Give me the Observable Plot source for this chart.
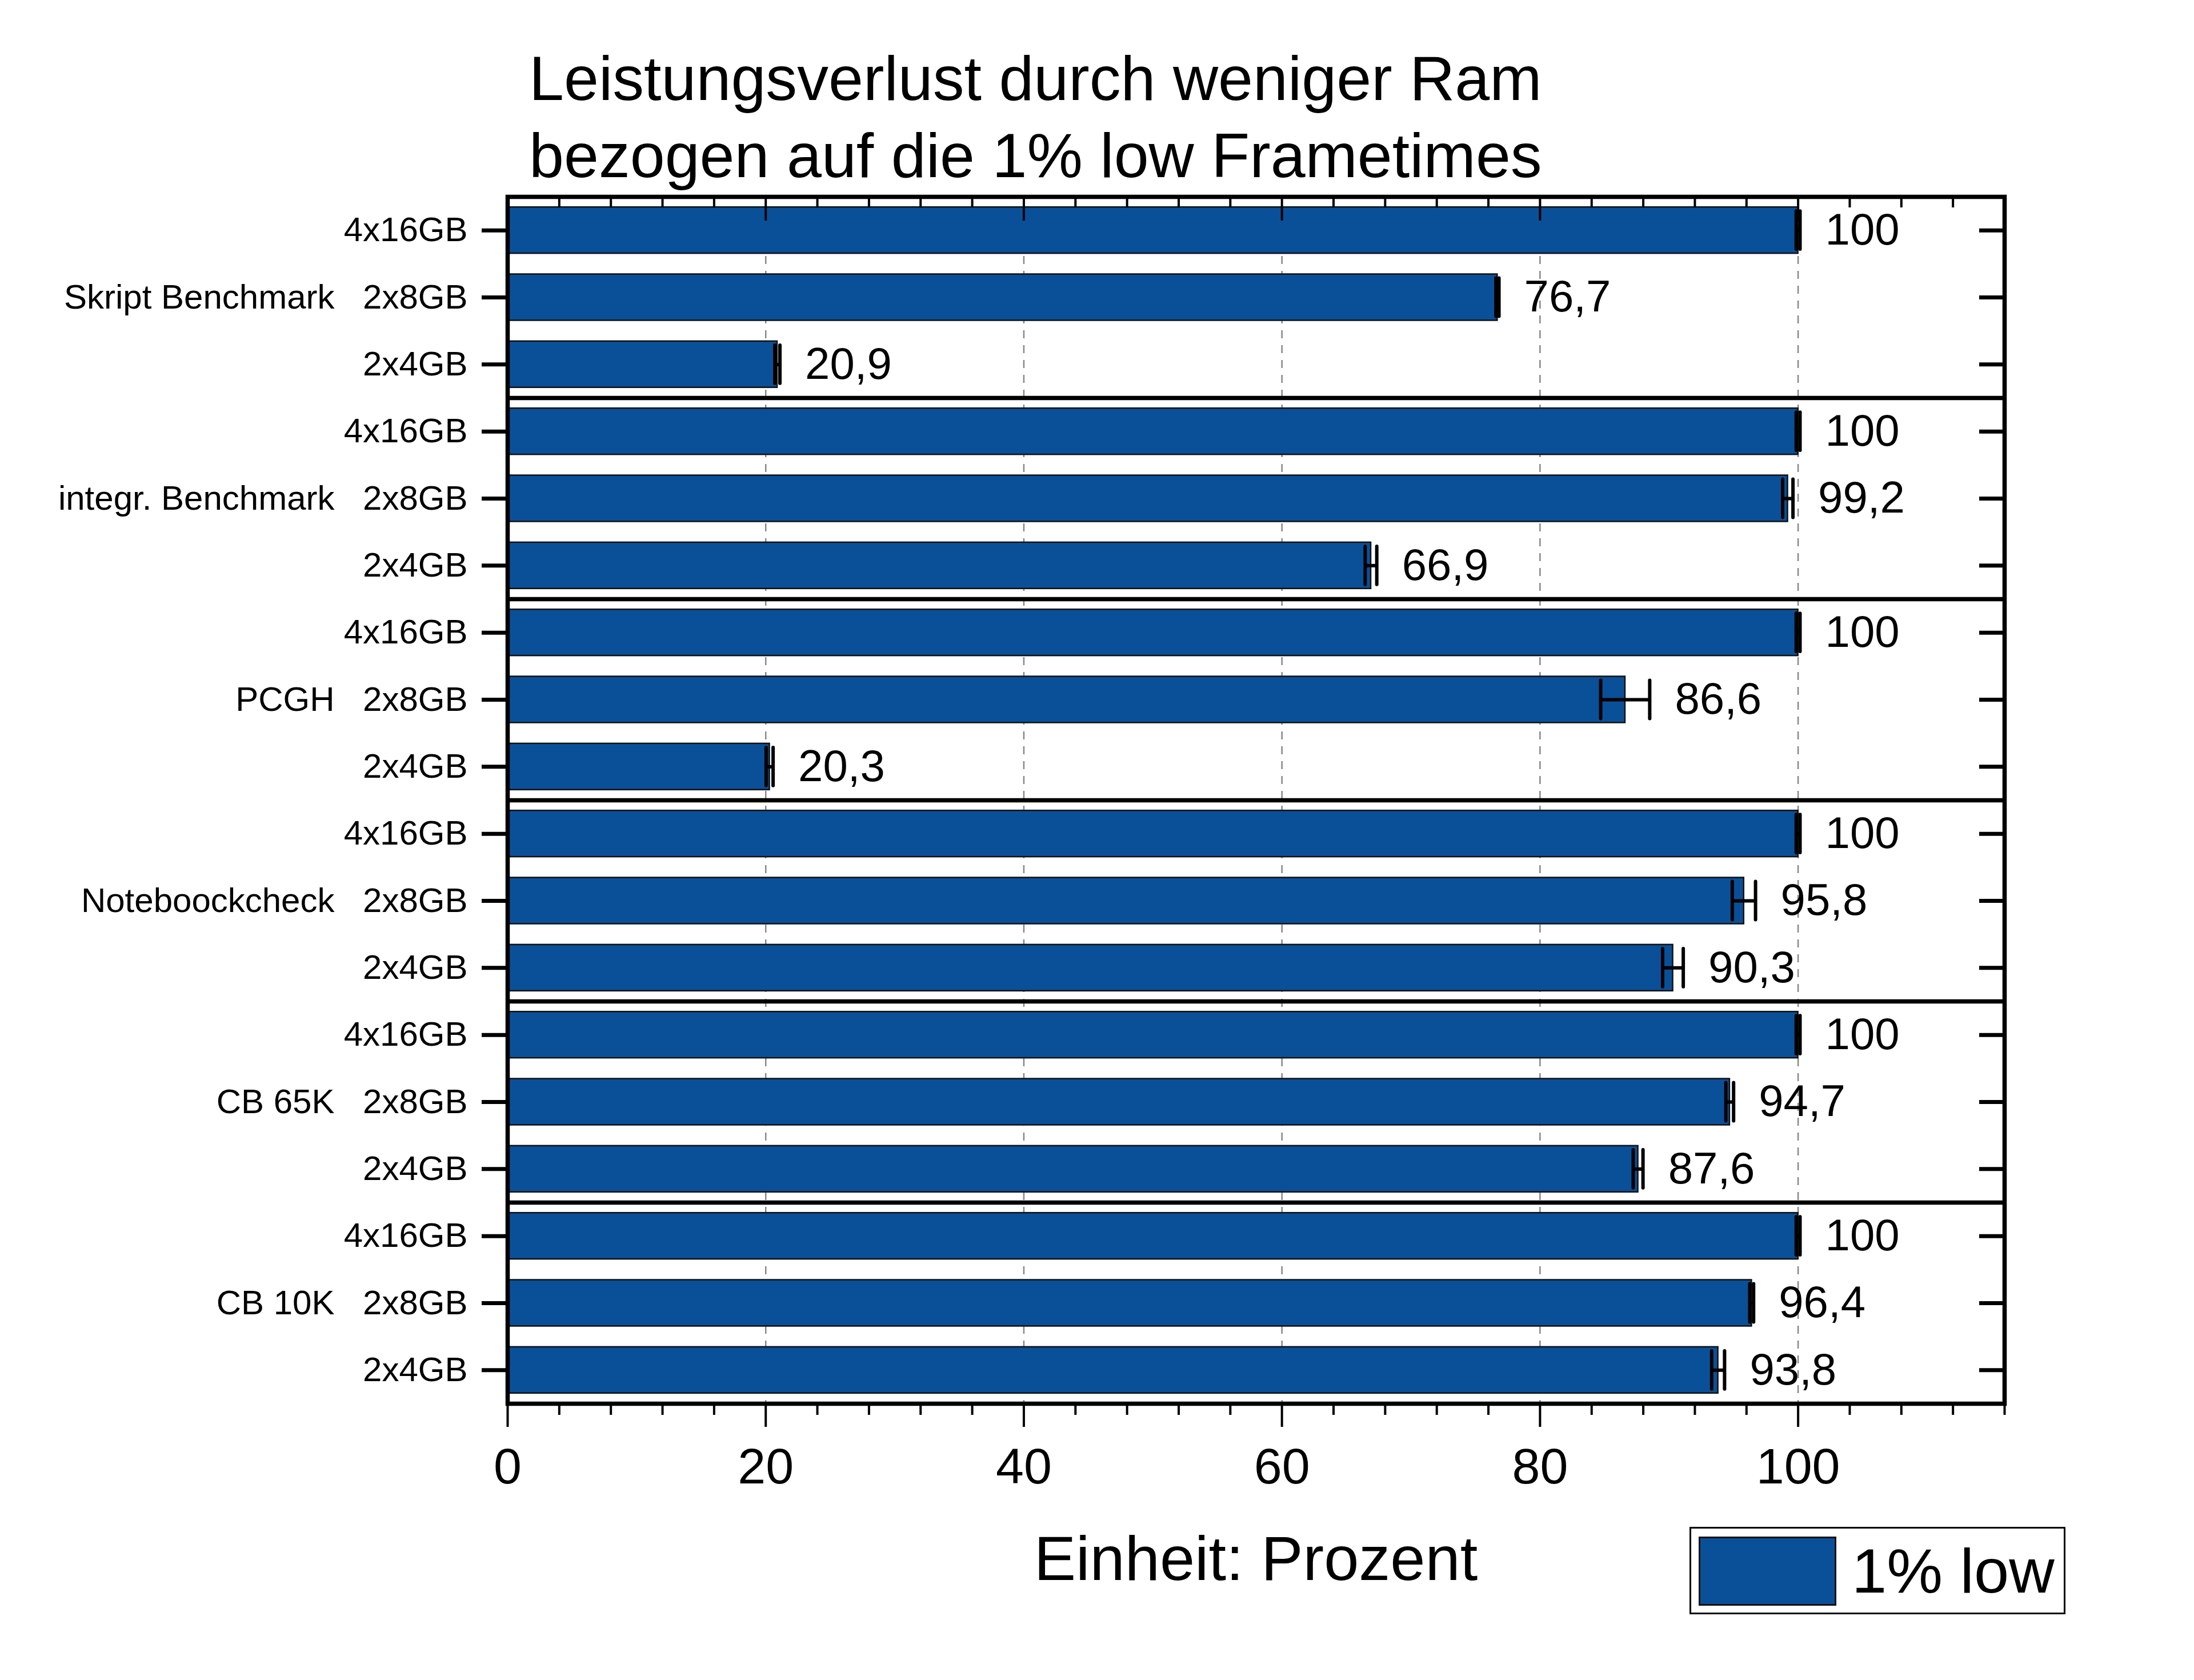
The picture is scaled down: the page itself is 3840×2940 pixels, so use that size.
<!DOCTYPE html>
<html>
<head>
<meta charset="utf-8">
<script src="https://cdn.jsdelivr.net/npm/d3@7"></script>
<script src="https://cdn.jsdelivr.net/npm/@observablehq/plot@0.6"></script>
<style>
  html, body { margin: 0; padding: 0; background: white; }
  #wrap { position: relative; width: 3840px; height: 2940px; font-family: "Liberation Sans", Arial, sans-serif; color: black; }
  #chart { position: absolute; left: 0; top: 0; }
  .title { position: absolute; left: 926px; top: 70px; font-size: 109.6px; line-height: 135px; white-space: nowrap; }
  .xlabel { position: absolute; left: 2198px; top: 2672px; transform: translateX(-50%); font-size: 110px; line-height: 110px; white-space: nowrap; }
  .legend { position: absolute; left: 2957px; top: 2672px; width: 658px; height: 153px; border: 3px solid black; box-sizing: border-box; background: white; }
  .swatch { position: absolute; left: 2973px; top: 2689px; width: 241px; height: 121px; border: 3px solid #111; box-sizing: border-box; }
  .legtext { position: absolute; left: 3241px; top: 2694px; font-size: 110px; line-height: 110px; white-space: nowrap; }
</style>
</head>
<body>
<div id="wrap">
  <div id="chart"></div>
  <div class="title">Leistungsverlust durch weniger Ram<br>bezogen auf die 1% low Frametimes</div>
  <div class="xlabel">Einheit: Prozent</div>
  <div class="legend"></div>
  <div class="swatch" id="sw"></div>
  <div class="legtext">1% low</div>
</div>
<script>
const groups = ["Skript Benchmark", "integr. Benchmark", "PCGH", "Noteboockcheck", "CB 65K", "CB 10K"];
const configs = ["4x16GB", "2x8GB", "2x4GB"];
const values = [
  [100, 76.7, 20.9],
  [100, 99.2, 66.9],
  [100, 86.6, 20.3],
  [100, 95.8, 90.3],
  [100, 94.7, 87.6],
  [100, 96.4, 93.8]
];
const errors = [
  [0.15, 0.12, 0.2],
  [0.15, 0.4, 0.45],
  [0.15, 1.9, 0.27],
  [0.15, 0.9, 0.8],
  [0.15, 0.3, 0.38],
  [0.15, 0.15, 0.5]
];
const majorTicks = [0, 20, 40, 60, 80, 100];
const minorTicks = [4, 8, 12, 16, 24, 28, 32, 36, 44, 48, 52, 56, 64, 68, 72, 76, 84, 88, 92, 96, 104, 108, 112, 116];

const barColor = "#0a5099";
document.getElementById("sw").style.background = barColor;

const rows = [];
groups.forEach((g, gi) => configs.forEach((c, ci) => rows.push({
  group: g, config: c, i: gi * configs.length + ci, value: values[gi][ci], err: errors[gi][ci]
})));
const rowIdx = rows.map(d => d.i);
const separators = d3.range(1, groups.length).map(g => g * configs.length - 0.5);
const fmt = v => String(v).replace(".", ",");

const chart = Plot.plot({
  width: 3840,
  height: 2940,
  marginLeft: 888,
  marginRight: 332,
  marginTop: 344,
  marginBottom: 484,
  style: {fontFamily: "'Liberation Sans', Arial, sans-serif", background: "white", color: "black", overflow: "visible"},
  x: {domain: [0, 116]},
  y: {domain: [-0.5, rows.length - 0.5], reverse: true},
  marks: [
    Plot.ruleX(majorTicks.slice(1), {stroke: "#888", strokeWidth: 2.5, strokeDasharray: "14,12"}),
    Plot.rectX(rows, {x1: 0, x2: "value", y1: d => d.i - 0.345, y2: d => d.i + 0.345, fill: barColor, stroke: "#111", strokeWidth: 2.5}),
    Plot.ruleY(rows, {y: "i", x1: d => d.value - d.err, x2: d => d.value + d.err, stroke: "black", strokeWidth: 6}),
    Plot.ruleX(rows, {x: d => d.value - d.err, y1: d => d.i - 0.285, y2: d => d.i + 0.285, stroke: "black", strokeWidth: 6, strokeLinecap: "round"}),
    Plot.ruleX(rows, {x: d => d.value + d.err, y1: d => d.i - 0.285, y2: d => d.i + 0.285, stroke: "black", strokeWidth: 6, strokeLinecap: "round"}),
    Plot.text(rows, {x: d => d.value + d.err, y: "i", text: d => fmt(d.value), dx: 44, textAnchor: "start", fontSize: 78, fill: "black"}),
    Plot.ruleY(separators, {stroke: "black", strokeWidth: 7.5}),
    Plot.frame({stroke: "black", strokeWidth: 7.5}),
    Plot.axisX(majorTicks, {anchor: "bottom", tickSize: 41, tickPadding: 36, fontSize: 88, strokeWidth: 4, tickFormat: d => String(d), label: null}),
    Plot.axisX(minorTicks, {anchor: "bottom", tickSize: 20, strokeWidth: 4, text: null, label: null}),
    Plot.axisX(majorTicks, {anchor: "top", tickSize: -41, strokeWidth: 4, text: null, label: null}),
    Plot.axisX(minorTicks, {anchor: "top", tickSize: -18, strokeWidth: 4, text: null, label: null}),
    Plot.axisY(rowIdx, {anchor: "left", tickSize: 45, tickPadding: 25, fontSize: 60, strokeWidth: 7, tickFormat: i => configs[i % configs.length], label: null}),
    Plot.axisY(rowIdx, {anchor: "right", tickSize: -45, strokeWidth: 7, text: null, label: null}),
    Plot.text(groups, {y: (d, gi) => gi * configs.length + 1, frameAnchor: "left", dx: -303, textAnchor: "end", fontSize: 60, text: d => d, fill: "black"})
  ]
});
document.getElementById("chart").appendChild(chart);
</script>
</body>
</html>
